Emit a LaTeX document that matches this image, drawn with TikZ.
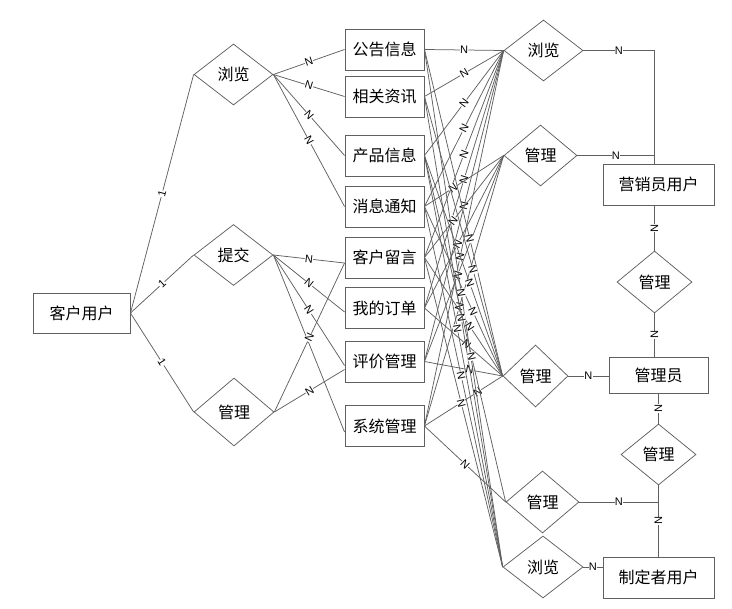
\documentclass[tikz,border=0pt]{standalone}
\usepackage{fontspec}
\setmainfont{Liberation Sans}
\newfontfamily\cjkfont{Noto Sans CJK SC}
\usetikzlibrary{shapes.geometric}
\definecolor{lncol}{RGB}{96,96,96}
\begin{document}
\begin{tikzpicture}[x=1bp,y=-1bp,
  conn/.style={draw=lncol,line width=0.75bp},
  ent/.style={draw=lncol,line width=0.9bp,rectangle,inner sep=0pt,font=\cjkfont\fontsize{16bp}{18bp}\selectfont},
  rel/.style={draw=lncol,line width=0.75bp,diamond,inner sep=0pt,font=\cjkfont\fontsize{16bp}{18bp}\selectfont},
  lab/.style={fill=white,inner sep=0.3bp,font=\fontsize{11bp}{11bp}\selectfont,sloped}]
\useasboundingbox (0,0) rectangle (732,609);

% left column
\node[ent,minimum width=97bp,minimum height=40bp] (kh) at (81.5,313) {客户用户};
\node[rel,minimum width=79bp,minimum height=61bp] (ll) at (233.5,74.5) {浏览};
\node[rel,minimum width=79bp,minimum height=61bp] (tj) at (233.5,255) {提交};
\node[rel,minimum width=80bp,minimum height=68bp] (gl) at (234,412) {管理};

% middle column
\node[ent,minimum width=79bp,minimum height=41bp] (gg) at (384.5,49.5) {公告信息};
\node[ent,minimum width=79bp,minimum height=41bp] (xg) at (384.5,96.5) {相关资讯};
\node[ent,minimum width=79bp,minimum height=41bp] (cp) at (384.5,155.5) {产品信息};
\node[ent,minimum width=79bp,minimum height=41bp] (xx) at (384.5,206.5) {消息通知};
\node[ent,minimum width=79bp,minimum height=41bp] (kl) at (384.5,257.5) {客户留言};
\node[ent,minimum width=79bp,minimum height=41bp] (dd) at (384.5,308) {我的订单};
\node[ent,minimum width=79bp,minimum height=41bp] (pj) at (384.5,361.5) {评价管理};
\node[ent,minimum width=79bp,minimum height=41bp] (xt) at (384.5,426) {系统管理};

% right diamonds
\node[rel,minimum width=79bp,minimum height=61bp] (r1) at (543.5,50.5) {浏览};
\node[rel,minimum width=73bp,minimum height=61bp] (r2) at (540.5,155.5) {管理};
\node[rel,minimum width=65bp,minimum height=62bp] (r3) at (535.5,376) {管理};
\node[rel,minimum width=73bp,minimum height=62bp] (r4) at (542.5,502) {管理};
\node[rel,minimum width=80bp,minimum height=62bp] (r5) at (543,567) {浏览};

% right column
\node[ent,minimum width=111bp,minimum height=41bp] (ym) at (658.5,184.5) {营销员用户};
\node[rel,minimum width=75bp,minimum height=62bp] (m1) at (654.5,282) {管理};
\node[ent,minimum width=99bp,minimum height=36bp] (gy) at (658.5,375) {管理员};
\node[rel,minimum width=75bp,minimum height=61bp] (m2) at (658.5,454.5) {管理};
\node[ent,minimum width=111bp,minimum height=41bp] (zd) at (658.5,577.5) {制定者用户};

\coordinate (j1) at (654.5,50.5);
\coordinate (j2) at (654.5,155.5);
\coordinate (j4) at (658.5,502);

% customer user relations
\draw[conn] (kh.east) -- node[lab]{1} (ll.west);
\draw[conn] (kh.east) -- node[lab]{1} (tj.west);
\draw[conn] (kh.east) -- node[lab]{1} (gl.west);

\draw[conn] (ll.east) -- node[lab]{N} (gg.west);
\draw[conn] (ll.east) -- node[lab]{N} (xg.west);
\draw[conn] (ll.east) -- node[lab]{N} (cp.west);
\draw[conn] (ll.east) -- node[lab]{N} (xx.west);

\draw[conn] (tj.east) -- node[lab]{N} ([yshift=-5.5bp]kl.west);
\draw[conn] (tj.east) -- node[lab]{N} ([yshift=-4bp]dd.west);
\draw[conn] (tj.east) -- node[lab]{N} ([yshift=-4bp]pj.west);
\draw[conn] (tj.east) -- ([yshift=-6bp]xt.west);

\draw[conn] (gl.east) -- node[lab]{N} ([yshift=-5.5bp]kl.west);
\draw[conn] (gl.east) -- node[lab]{N} ([yshift=-8bp]pj.west);

% middle to right diamonds
\foreach \r in {gg,xg,cp,xx,kl,dd,pj}
  \draw[conn] (\r.east) -- node[lab]{N} (r1.west);
\draw[conn] (xt.east) -- node[lab,pos=0.45]{N} (r1.west);
\draw[conn] (xx.east) -- node[lab,pos=0.36]{N} (r2.west);
\draw[conn] (kl.east) -- node[lab,pos=0.36]{N} (r2.west);
\foreach \r in {dd,pj}
  \draw[conn] (\r.east) -- node[lab,pos=0.42]{N} (r2.west);
\draw[conn] (xt.east) -- node[lab,pos=0.44]{N} (r2.west);
\foreach \r in {gg,cp,kl,pj}
  \draw[conn] (\r.east) -- node[lab,pos=0.58]{N} (r3.west);
\draw[conn] (xt.east) -- node[lab,pos=0.68]{N} (r3.west);
\draw[conn] (xg.east) -- node[lab,pos=0.62]{N} (r3.west);
\draw[conn] (xx.east) -- node[lab,pos=0.62]{N} (r3.west);
\draw[conn] (dd.east) -- node[lab,pos=0.54]{N} (r3.west);
\foreach \r in {gg,xg,xx,kl}
  \draw[conn] (\r.east) -- node[lab,pos=0.47]{N} (r5.west);
\draw[conn] (cp.east) -- node[lab,pos=0.42]{N} (r5.west);
\draw[conn] (cp.east) -- node[lab,pos=0.58]{N} (r4.west);
\draw[conn] (xt.east) -- node[lab]{N} (r4.west);

% right side
\draw[conn] (r1.east) -- node[lab]{N} (j1) -- (j1 |- ym.north);
\draw[conn] (r2.east) -- node[lab]{N} (j2);
\draw[conn] (ym.south -| m1.north) -- node[lab]{N} (m1.north);
\draw[conn] (m1.south) -- node[lab]{N} (m1.south |- gy.north);
\draw[conn] (r3.east) -- node[lab]{N} (r3.east -| gy.west);
\draw[conn] (gy.south -| m2.north) -- node[lab]{N} (m2.north);
\draw[conn] (m2.south) -- node[lab]{N} (m2.south |- zd.north);
\draw[conn] (r4.east) -- node[lab]{N} (j4);
\draw[conn] (r5.east) -- node[lab]{N} (r5.east -| zd.west);
\end{tikzpicture}
\end{document}
